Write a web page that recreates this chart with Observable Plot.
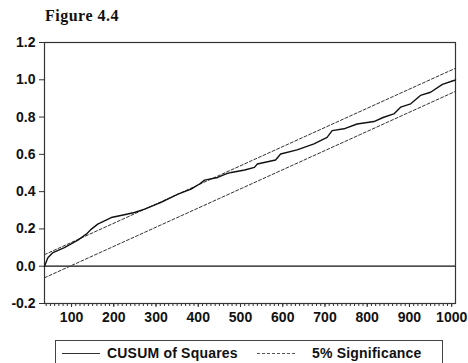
<!DOCTYPE html>
<html>
<head>
<meta charset="utf-8">
<script src="https://cdn.jsdelivr.net/npm/d3@7"></script>
<script src="https://cdn.jsdelivr.net/npm/@observablehq/plot@0.6"></script>
<style>
  html, body { margin: 0; padding: 0; background: #fff; }
  #wrap { position: relative; width: 468px; height: 363px; overflow: hidden; }
  #title { height: 30px; font-family: "Liberation Serif", "Times New Roman", serif; font-weight: bold; font-size: 16px; letter-spacing: 0.5px; padding-left: 45px; line-height: 32px; color: #111; }
  #legend { position: absolute; left: 55px; top: 340px; width: 388px; height: 30px; border: 1px solid #444; box-sizing: border-box; font-family: "Liberation Sans", Arial, sans-serif; font-weight: bold; font-size: 14px; letter-spacing: 0.2px; color: #111; }
  .item { position: absolute; top: 4px; line-height: 16px; }
  .sw { position: absolute; top: 12px; width: 38px; height: 0; }
</style>
</head>
<body>
<div id="wrap">
  <div id="title">Figure 4.4</div>
  <div id="chart"></div>
  <div id="legend">
    <div class="sw" style="left:6px; border-top:1px solid #333;"></div>
    <div class="item" style="left:51px;">CUSUM of Squares</div>
    <div class="sw" style="left:201px; border-top:1px dashed #555;"></div>
    <div class="item" style="left:256px;">5% Significance</div>
  </div>
</div>
<script>
const obs = [36, 44, 56, 83, 115, 135, 147, 162, 194, 225, 249, 273, 312, 352, 383, 403, 415, 446, 466, 478, 510, 533, 540, 583, 595, 634, 674, 705, 717, 745, 776, 816, 839, 863, 879, 903, 926, 950, 978, 1005, 1009];
const cusum = [0.000, 0.046, 0.073, 0.100, 0.140, 0.172, 0.199, 0.226, 0.261, 0.276, 0.288, 0.306, 0.342, 0.387, 0.414, 0.441, 0.462, 0.476, 0.495, 0.503, 0.516, 0.530, 0.548, 0.570, 0.602, 0.624, 0.656, 0.691, 0.727, 0.737, 0.763, 0.776, 0.799, 0.817, 0.853, 0.871, 0.916, 0.933, 0.975, 0.996, 1.000];
// 5% significance bounds
const sigX = [36, 1009];
const sigUpper = [0.062, 1.062];
const sigLower = [-0.062, 0.938];
// Tick values
const xTicks = [100, 200, 300, 400, 500, 600, 700, 800, 900, 1000];
const xMinorTicks = d3.range(40, 1001, 10);
const yTicks = [-0.2, 0.0, 0.2, 0.4, 0.6, 0.8, 1.0, 1.2];

const line = obs.map((x, i) => ({x, y: cusum[i]}));
const upper = sigX.map((x, i) => ({x, y: sigUpper[i]}));
const lower = sigX.map((x, i) => ({x, y: sigLower[i]}));

const chart = Plot.plot({
  width: 468,
  height: 310,
  marginTop: 12,
  marginBottom: 37,
  marginLeft: 44,
  marginRight: 13,
  style: {fontFamily: "'Liberation Sans', Arial, sans-serif", fontSize: "14px", fontWeight: "bold", color: "#111", background: "#fff"},
  x: {domain: [36, 1009]},
  y: {domain: [-0.2, 1.2]},
  marks: [
    Plot.axisX({ticks: xMinorTicks, tickSize: 3, tickFormat: () => "", stroke: "#333", label: null}),
    Plot.axisX({ticks: xTicks, tickSize: 4, tickPadding: 5, tickFormat: d => String(d), stroke: "#333", label: null}),
    Plot.axisY({ticks: yTicks, tickSize: 5, tickPadding: 4, tickFormat: d => d.toFixed(1), stroke: "#333", label: null}),
    Plot.frame({stroke: "#333", strokeWidth: 1.2}),
    Plot.ruleY([0], {stroke: "#111", strokeWidth: 1.3}),
    Plot.line(upper, {x: "x", y: "y", stroke: "#333", strokeWidth: 1, strokeDasharray: "3,2"}),
    Plot.line(lower, {x: "x", y: "y", stroke: "#333", strokeWidth: 1, strokeDasharray: "3,2"}),
    Plot.line(line, {x: "x", y: "y", stroke: "#111", strokeWidth: 1.4})
  ]
});
document.getElementById("chart").appendChild(chart);
</script>
</body>
</html>
